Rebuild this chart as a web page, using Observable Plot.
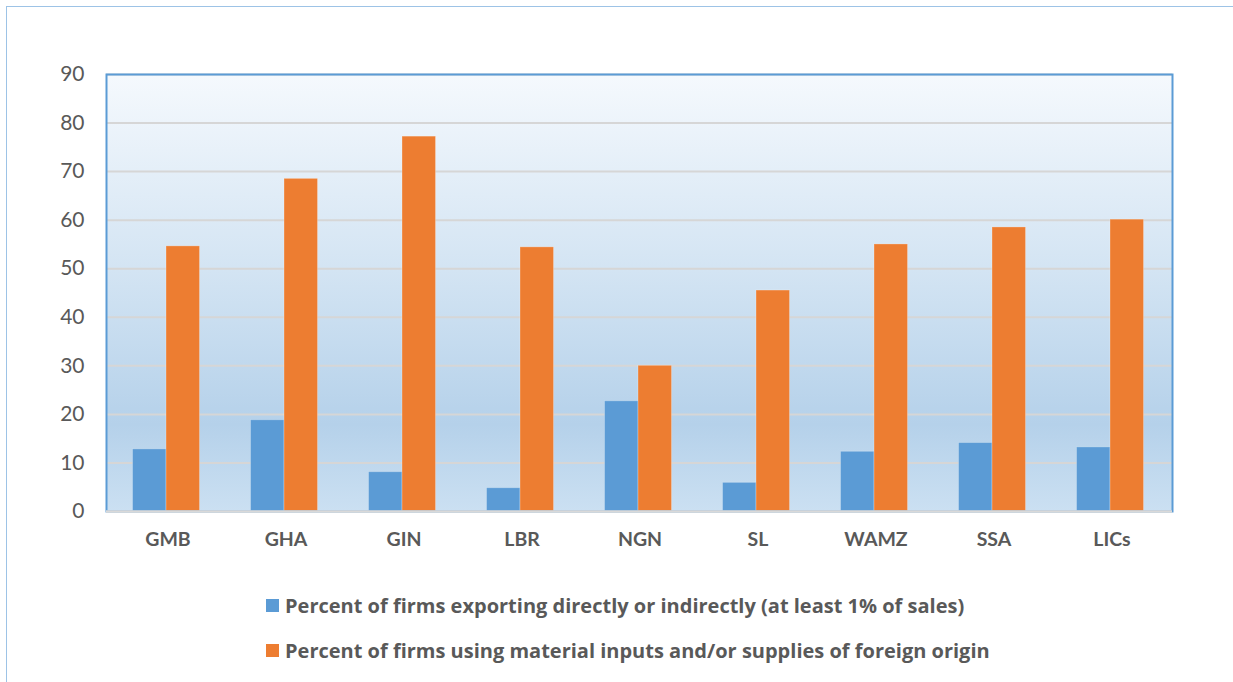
<!DOCTYPE html>
<html>
<head>
<meta charset="utf-8">
<script src="https://cdn.jsdelivr.net/npm/d3@7"></script>
<script src="https://cdn.jsdelivr.net/npm/@observablehq/plot@0.6"></script>
<style>
  html, body { margin: 0; padding: 0; background: #fff; }
  body { width: 1233px; height: 682px; position: relative; overflow: hidden; font-family: Lato, "Open Sans", sans-serif; }
  #border { position: absolute; left: 6px; top: 6px; width: 1240px; height: 700px; border-left: 1.5px solid #9dc3e6; border-top: 1.5px solid #9dc3e6; box-sizing: border-box; }
  #chart { position: absolute; left: 0; top: 0; }
  #legend { position: absolute; left: 266px; top: 591px; color: #595959; font-weight: bold; font-size: 20px; font-family: "Open Sans", Lato, sans-serif; }
  .item { display: flex; align-items: center; height: 28px; margin-bottom: 17px; white-space: nowrap; }
  .sw { width: 13px; height: 13px; margin-right: 6px; flex: none; }
</style>
</head>
<body>
<div id="border"></div>
<div id="chart"></div>
<div id="legend"></div>
<script>
const categories = ["GMB", "GHA", "GIN", "LBR", "NGN", "SL", "WAMZ", "SSA", "LICs"];
const exporting = [12.8, 18.8, 8.1, 4.8, 22.7, 5.9, 12.3, 14.1, 13.2];
const foreignInputs = [54.6, 68.5, 77.2, 54.4, 30.0, 45.5, 55.0, 58.5, 60.1];
const seriesNames = [
  "Percent of firms exporting directly or indirectly (at least 1% of sales)",
  "Percent of firms using material inputs and/or supplies of foreign origin"
];
const seriesColors = ["#5b9bd5", "#ed7d31"];
const yTicks = [0, 10, 20, 30, 40, 50, 60, 70, 80, 90];

const dataA = categories.map((c, i) => ({category: c, value: exporting[i]}));
const dataB = categories.map((c, i) => ({category: c, value: foreignInputs[i]}));

const W = 1233, H = 560;
const mL = 106, mR = 61, mT = 74, mB = 49;
const pad = 0.434;
const step = (W - mL - mR) / categories.length;
const half = step * (1 - pad) / 2;

const svg = Plot.plot({
  width: W, height: H,
  marginLeft: mL, marginRight: mR, marginTop: mT, marginBottom: mB,
  style: {fontFamily: "Lato, 'Open Sans', sans-serif", background: "transparent"},
  x: {domain: categories, paddingInner: pad, paddingOuter: pad / 2, label: null},
  y: {domain: [0, 90], label: null},
  marks: [
    Plot.frame({fill: "#dde9f5", stroke: "none"}),
    Plot.ruleY(yTicks.filter(d => d > 0), {stroke: "#d6d6d6", strokeWidth: 2}),
    Plot.barY(dataA, {x: "category", y: "value", fill: seriesColors[0], insetRight: half, dx: -1.5, stroke: "#ffffff", strokeOpacity: 0.25, strokeWidth: 1}),
    Plot.barY(dataB, {x: "category", y: "value", fill: seriesColors[1], insetLeft: half, dx: -1.5, stroke: "#ffffff", strokeOpacity: 0.25, strokeWidth: 1}),
    Plot.frame({stroke: "#5b9bd5", strokeWidth: 2}),
    Plot.ruleY([0], {stroke: "#d9d9d9", strokeWidth: 2.5}),
    Plot.axisY({ticks: yTicks, tickSize: 0, tickPadding: 22, fontSize: 21, color: "#595959", label: null}),
    Plot.axisX({tickSize: 0, tickPadding: 21, fontSize: 19.5, fontWeight: "bold", color: "#595959", label: null})
  ]
});

// vertical gradient background for the plot area
const ns = "http://www.w3.org/2000/svg";
const defs = document.createElementNS(ns, "defs");
defs.innerHTML = `<linearGradient id="plotbg" x1="0" y1="0" x2="0" y2="1">
  <stop offset="0" stop-color="#f5f9fd"/>
  <stop offset="0.45" stop-color="#d3e4f3"/>
  <stop offset="0.8" stop-color="#b5d1ea"/>
  <stop offset="1" stop-color="#cbe0f2"/>
</linearGradient>`;
svg.insertBefore(defs, svg.firstChild);
const frameRect = svg.querySelector('[aria-label="frame"]');
if (frameRect) frameRect.setAttribute("fill", "url(#plotbg)");
svg.querySelectorAll('[aria-label="y-axis tick label"] text, [aria-label="x-axis tick label"] text').forEach(t => t.setAttribute("fill", "#595959"));

document.getElementById("chart").appendChild(svg);

const legend = document.getElementById("legend");
seriesNames.forEach((name, i) => {
  const item = document.createElement("div");
  item.className = "item";
  const sw = document.createElement("span");
  sw.className = "sw";
  sw.style.background = seriesColors[i];
  const label = document.createElement("span");
  label.textContent = name;
  item.appendChild(sw);
  item.appendChild(label);
  legend.appendChild(item);
});
</script>
</body>
</html>
